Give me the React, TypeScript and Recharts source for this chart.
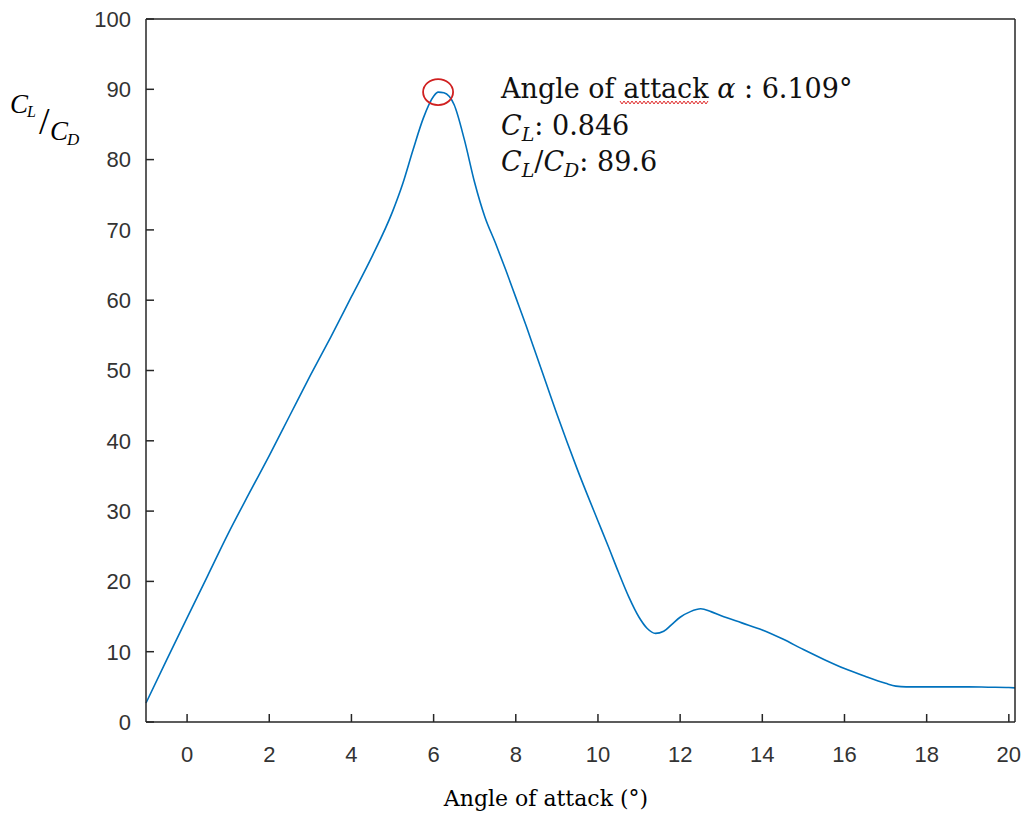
import React from "react";
import { LineChart, Line, XAxis, YAxis, ReferenceDot, Customized } from "recharts";

// angle of attack (deg) and lift-to-drag ratio
const angles = [
  -1, -0.5, 0, 0.5, 1, 1.5, 2, 2.5, 3, 3.5, 4, 4.5, 5, 5.25, 5.5, 5.75, 6, 6.109, 6.25, 6.5,
  6.75, 7, 7.25, 7.5, 7.75, 8, 8.25, 8.5, 8.75, 9, 9.25, 9.5, 9.75, 10, 10.25, 10.5, 10.75, 11,
  11.2, 11.4, 11.6, 11.8, 12, 12.25, 12.5, 12.75, 13, 13.5, 14, 14.5, 15, 15.5, 16, 16.5, 17,
  17.25, 17.5, 18, 18.5, 19, 19.5, 20, 20.15,
];
const clcd = [
  2.7, 8.8, 14.8, 20.8, 26.8, 32.4, 37.9, 43.6, 49.3, 54.8, 60.5, 66.2, 72.6, 76.6, 81.4, 85.9, 89.0, 89.6, 89.5, 87.8,
  82.8, 76.7, 71.8, 68.2, 64.4, 60.4, 56.4, 52.2, 48.0, 43.8, 39.8, 35.9, 32.2, 28.6, 25.0, 21.3, 17.8, 14.9,
  13.3, 12.6, 12.9, 13.9, 14.9, 15.7, 16.1, 15.7, 15.1, 14.1, 13.1, 11.8, 10.3, 8.9, 7.6, 6.5, 5.5,
  5.1, 5.0, 5.0, 5.0, 5.0, 4.95, 4.9, 4.85,
];
const xTicks = [0, 2, 4, 6, 8, 10, 12, 14, 16, 18, 20];
const yTicks = [0, 10, 20, 30, 40, 50, 60, 70, 80, 90, 100];
const peak = { angle: 6.109, cl: 0.846, ratio: 89.6 };

const data = angles.map((a, i) => ({ angle: a, ratio: clcd[i] }));

const AXIS = "#262626";
const TICK_LEN = 8;
const X_GAP = 24;
const Y_GAP = 15;
const sans = "Liberation Sans, Arial, sans-serif";
const serif = "DejaVu Serif, serif";

// tick label plus an inward tick mark (MATLAB style)
function BottomTick(props: any) {
  const { x, y, payload } = props;
  const axisY = y - X_GAP;
  return (
    <g>
      <line x1={x} x2={x} y1={axisY} y2={axisY - TICK_LEN} stroke={AXIS} strokeWidth={1.5} />
      <text x={x} y={y} dy="0.71em" textAnchor="middle" fontFamily={sans} fontSize={22} fill="#333">
        {payload.value}
      </text>
    </g>
  );
}

function LeftTick(props: any) {
  const { x, y, payload } = props;
  const axisX = x + Y_GAP;
  return (
    <g>
      <line x1={axisX} x2={axisX + TICK_LEN} y1={y} y2={y} stroke={AXIS} strokeWidth={1.5} />
      <text x={x} y={y} dy="0.355em" textAnchor="end" fontFamily={sans} fontSize={22} fill="#333">
        {payload.value}
      </text>
    </g>
  );
}

function Overlay() {
  // red spell-check squiggle under "attack"
  let squiggle = "";
  for (let i = 0; i <= 44; i++) {
    const x = 620 + i * 2;
    squiggle += `${i === 0 ? "M" : "L"}${x},${i % 2 === 0 ? 101 : 104}`;
  }
  return (
    <g>
      {/* y-axis title C_L / C_D */}
      <g fontFamily="Liberation Serif, serif" fontStyle="italic" fill="#000">
        <text x={10} y={113} fontSize={27}>C</text>
        <text x={27} y={117} fontSize={16}>L</text>
        <text x={39} y={134} fontSize={38} fontStyle="normal">/</text>
        <text x={50} y={140} fontSize={27}>C</text>
        <text x={67} y={145} fontSize={17}>D</text>
      </g>
      {/* peak annotation */}
      <g fontFamily={serif} fontSize={27} fill="#111">
        <text x={501} y={98}>
          Angle of attack <tspan fontStyle="italic">α</tspan> : {peak.angle}°
        </text>
        <text x={501} y={135}>
          <tspan fontStyle="italic">C</tspan>
          <tspan fontStyle="italic" fontSize={19} dy={6}>L</tspan>
          <tspan dy={-6}>: {peak.cl}</tspan>
        </text>
        <text x={501} y={171}>
          <tspan fontStyle="italic">C</tspan>
          <tspan fontStyle="italic" fontSize={19} dy={6}>L</tspan>
          <tspan dy={-6}>/</tspan>
          <tspan fontStyle="italic">C</tspan>
          <tspan fontStyle="italic" fontSize={19} dy={6}>D</tspan>
          <tspan dy={-6}>: {peak.ratio}</tspan>
        </text>
      </g>
      <path d={squiggle} stroke="#e03030" strokeWidth={1} fill="none" />
      {/* x-axis title */}
      <text x={546} y={806} textAnchor="middle" fontFamily={serif} fontSize={22} fill="#000">
        Angle of attack (°)
      </text>
    </g>
  );
}

export default function App() {
  return (
    <div style={{ position: "absolute", left: 0, top: 0, background: "#fff" }}>
      <LineChart width={1026} height={817} data={data} margin={{ top: 19, right: 11, bottom: 0, left: 0 }}>
        <XAxis
          dataKey="angle"
          type="number"
          domain={[-1, 20.15]}
          ticks={xTicks}
          height={95}
          stroke={AXIS}
          strokeWidth={1.5}
          tickLine={false}
          tickSize={0}
          tickMargin={X_GAP}
          tick={<BottomTick />}
          interval={0}
        />
        <XAxis
          xAxisId="top"
          orientation="top"
          dataKey="angle"
          type="number"
          domain={[-1, 20.15]}
          ticks={xTicks}
          height={1}
          mirror
          stroke={AXIS}
          strokeWidth={1.5}
          tickSize={TICK_LEN}
          tick={false}
        />
        <YAxis
          type="number"
          domain={[0, 100]}
          ticks={yTicks}
          width={146}
          stroke={AXIS}
          strokeWidth={1.5}
          tickLine={false}
          tickSize={0}
          tickMargin={Y_GAP}
          tick={<LeftTick />}
          interval={0}
        />
        <YAxis
          yAxisId="right"
          orientation="right"
          type="number"
          domain={[0, 100]}
          ticks={yTicks}
          width={1}
          mirror
          stroke={AXIS}
          strokeWidth={1.5}
          tickSize={TICK_LEN}
          tick={false}
        />
        <Line
          type="monotone"
          dataKey="ratio"
          stroke="#0072BD"
          strokeWidth={1.6}
          dot={false}
          isAnimationActive={false}
        />
        <ReferenceDot
          x={peak.angle}
          y={peak.ratio}
          r={14}
          shape={(p: any) => (
            <ellipse cx={p.cx} cy={p.cy} rx={15} ry={13} fill="none" stroke="#d02020" strokeWidth={1.8} />
          )}
        />
        <Customized component={<Overlay />} />
      </LineChart>
    </div>
  );
}
